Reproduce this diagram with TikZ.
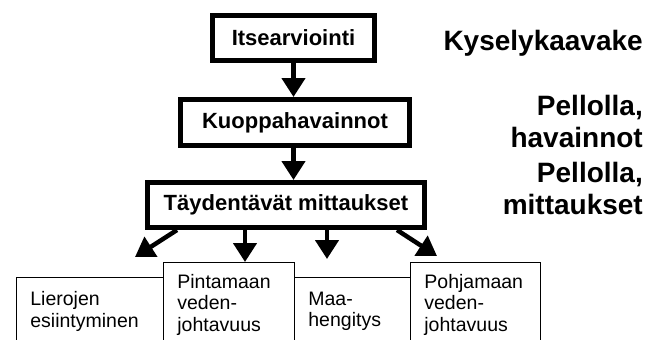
\documentclass[tikz,border=0pt]{standalone}
\usepackage{fontspec}
\setmainfont{Liberation Sans}
\usetikzlibrary{arrows.meta}

\begin{document}
\begin{tikzpicture}[x=1pt,y=-1pt,
box/.style={draw,line width=5pt,inner sep=0pt,font=\fontsize{22}{26}\selectfont\bfseries},
leaf/.style={draw,fill=white,line width=0.8pt,anchor=north west,align=left,inner xsep=14pt,inner ysep=0pt,font=\fontsize{19.5}{21.5}\selectfont},
lab/.style={anchor=north east,align=right,inner sep=0pt,font=\fontsize{28}{32}\selectfont\bfseries},
arr/.style={line width=4.5pt,-{Triangle[length=19pt,width=23pt]}}] %[x=1pt,y=-1pt]
\useasboundingbox (0,0) rectangle (662,340);
\node[box,minimum width=162,minimum height=45] (itse) at (293.5,38) {Itsearviointi};
\node[box,minimum width=229,minimum height=46] (kuoppa) at (295,122.5) {Kuoppahavainnot};
\node[box,minimum width=277,minimum height=45] (tayd) at (286,205) {Täydentävät mittaukset};
\node[lab] (kysely) at (643,30) {Kyselykaavake};
\node[lab] (havainnot) at (643,95) {Pellolla,\\havainnot};
\node[lab] (mittaukset) at (643,162) {Pellolla,\\mittaukset};
% alarivin laatikot
\node[leaf,text width=119,minimum height=68] (liero) at (16,277) {Lierojen\\esiintyminen};
\node[leaf,text width=88,minimum height=68] (maa) at (294,277) {Maa-\\hengitys};
\node[leaf,text width=103,minimum height=85] (pinta) at (163,262) {Pintamaan\\veden-\\johtavuus};
\node[leaf,text width=102,minimum height=85] (pohja) at (410,262) {Pohjamaan\\veden-\\johtavuus};
\coordinate (vasen) at (135,257);
\coordinate (keski) at (327,259);
\coordinate (oikea) at (437,256);
\draw[arr] (itse.south) -- (itse.south |- kuoppa.north);
\draw[arr] (kuoppa.south -| itse.south) -- (itse.south |- tayd.north);
\draw[arr] ([xshift=-109pt]tayd.south) -- (vasen);
\draw[arr] ([xshift=-41pt]tayd.south) -- ([xshift=-41pt]tayd.south |- pinta.north);
\draw[arr] ([xshift=41pt]tayd.south) -- (keski);
\draw[arr] ([xshift=111pt]tayd.south) -- (oikea);
\end{tikzpicture}
\end{document}
